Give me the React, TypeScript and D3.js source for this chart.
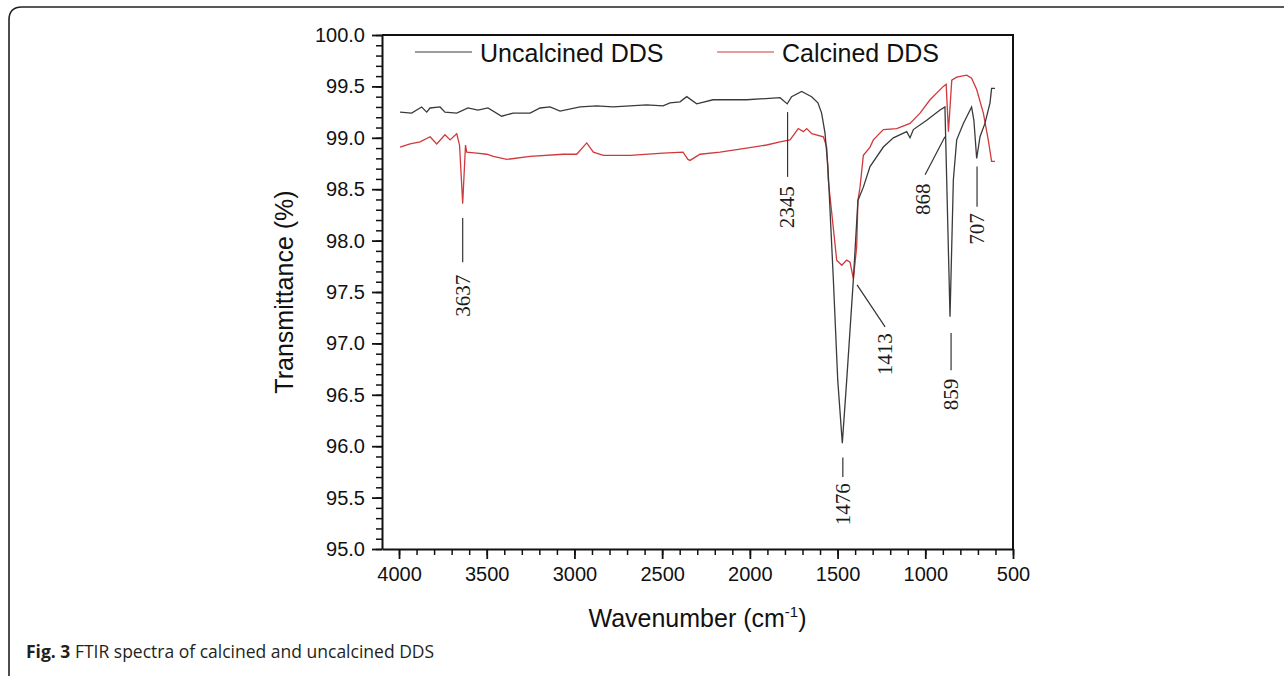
import React, { useEffect, useRef } from 'react';
import * as d3 from 'd3';

// uncalcined DDS (black)
const wnUncalcined = [3994, 3928, 3871, 3842, 3823, 3766, 3738, 3671, 3607, 3550, 3493, 3415, 3350, 3253, 3196, 3139, 3082, 2968, 2873, 2780, 2683, 2588, 2495, 2455, 2398, 2360, 2303, 2210, 2018, 1828, 1787, 1762, 1705, 1648, 1612, 1591, 1572, 1555, 1524, 1499, 1473, 1448, 1410, 1384, 1353, 1315, 1239, 1182, 1106, 1087, 1068, 992, 916, 888, 878, 859, 840, 821, 783, 736, 723, 707, 688, 660, 631, 622, 603];
const tUncalcined = [99.25, 99.24, 99.30, 99.25, 99.29, 99.30, 99.25, 99.24, 99.29, 99.27, 99.29, 99.21, 99.24, 99.24, 99.29, 99.30, 99.26, 99.30, 99.31, 99.30, 99.31, 99.32, 99.31, 99.34, 99.35, 99.40, 99.33, 99.37, 99.37, 99.39, 99.33, 99.40, 99.45, 99.40, 99.34, 99.24, 99.05, 98.72, 97.62, 96.64, 96.03, 96.64, 97.62, 98.39, 98.52, 98.72, 98.91, 99.00, 99.06, 99.00, 99.08, 99.17, 99.27, 99.30, 98.59, 97.26, 98.59, 98.98, 99.14, 99.30, 99.17, 98.80, 99.01, 99.14, 99.34, 99.48, 99.48];

// calcined DDS (red)
const wnCalcined = [3994, 3937, 3880, 3823, 3785, 3738, 3709, 3671, 3655, 3637, 3621, 3614, 3557, 3500, 3462, 3386, 3253, 3065, 2987, 2930, 2892, 2835, 2683, 2495, 2381, 2353, 2341, 2284, 2170, 2018, 1904, 1828, 1771, 1724, 1695, 1676, 1647, 1581, 1562, 1553, 1505, 1476, 1448, 1429, 1410, 1391, 1384, 1372, 1353, 1315, 1296, 1239, 1163, 1087, 1030, 973, 897, 881, 868, 849, 821, 764, 736, 707, 669, 641, 622, 603];
const tCalcined = [98.91, 98.94, 98.96, 99.01, 98.94, 99.03, 98.98, 99.04, 98.93, 98.36, 98.93, 98.86, 98.85, 98.84, 98.82, 98.79, 98.82, 98.84, 98.84, 98.95, 98.86, 98.83, 98.83, 98.85, 98.86, 98.79, 98.78, 98.84, 98.86, 98.90, 98.93, 98.96, 98.98, 99.09, 99.06, 99.09, 99.04, 99.01, 98.91, 98.59, 97.81, 97.76, 97.81, 97.79, 97.63, 97.94, 98.39, 98.52, 98.83, 98.91, 98.98, 99.08, 99.09, 99.14, 99.24, 99.37, 99.50, 99.52, 99.06, 99.56, 99.59, 99.61, 99.58, 99.47, 99.24, 98.98, 98.77, 98.77];

const seriesNames = ['Uncalcined DDS', 'Calcined DDS'];
const xTicks = [4000, 3500, 3000, 2500, 2000, 1500, 1000, 500];
const yTicks = [95, 95.5, 96, 96.5, 97, 97.5, 98, 98.5, 99, 99.5, 100];

// peak labels: text, leader line start/end [wavenumber, %T], text bottom [wavenumber, %T]
const peakLabels = ['3637', '2345', '1476', '1413', '859', '868', '707'];
const peakLineFrom = [[3637, 98.22], [1785, 99.25], [1470, 95.89], [1389, 97.57], [853, 97.10], [888, 99.01], [705, 98.72]];
const peakLineTo = [[3637, 97.79], [1785, 98.62], [1470, 95.70], [1229, 97.16], [853, 96.74], [1001, 98.64], [705, 98.33]];
const peakTextAt = [[3637, 97.26], [1790, 98.12], [1470, 95.23], [1229, 96.69], [853, 96.35], [1013, 98.25], [705, 97.96]];

const W = 1284;
const H = 676;
const margin = { left: 382, right: 271, top: 35, bottom: 127 };

const App = () => {
  const ref = useRef<SVGSVGElement>(null);

  useEffect(() => {
    const svg = d3.select(ref.current);
    svg.selectAll('*').remove();

    const sans = 'Liberation Sans, Arial, sans-serif';
    const serif = 'Liberation Serif, Times New Roman, serif';

    // outer figure frame
    svg.append('path')
      .attr('d', `M9,${H} L9,20 Q9,7 22,7 L${W},7`)
      .attr('fill', 'none')
      .attr('stroke', '#222')
      .attr('stroke-width', 1.6);

    svg.append('text')
      .attr('x', 26)
      .attr('y', 658)
      .attr('font-family', 'Open Sans, sans-serif')
      .attr('font-size', 17.5)
      .attr('fill', '#231f20')
      .call(t => {
        t.append('tspan').attr('font-weight', 'bold').text('Fig. 3');
        t.append('tspan').text(' FTIR spectra of calcined and uncalcined DDS');
      });

    const x = d3.scaleLinear().domain([4097, 500]).range([margin.left, W - margin.right]);
    const y = d3.scaleLinear().domain([95, 100]).range([H - margin.bottom, margin.top]);

    const g = svg.append('g');

    // minor ticks
    const minorX = d3.range(4000, 499, -100);
    const minorY = d3.range(95, 100.001, 0.1);
    g.append('g')
      .attr('transform', `translate(0,${y(95)})`)
      .call(d3.axisBottom(x).tickValues(minorX).tickSize(6).tickSizeOuter(0).tickFormat(() => ''))
      .call(a => a.select('.domain').remove())
      .call(a => a.selectAll('line').attr('stroke-width', 1.5).attr('stroke', '#111'));
    g.append('g')
      .attr('transform', `translate(${x(4097)},0)`)
      .call(d3.axisLeft(y).tickValues(minorY).tickSize(6).tickSizeOuter(0).tickFormat(() => ''))
      .call(a => a.select('.domain').remove())
      .call(a => a.selectAll('line').attr('stroke-width', 1.5).attr('stroke', '#111'));

    // major axes
    const xAxis = g.append('g')
      .attr('transform', `translate(0,${y(95)})`)
      .call(d3.axisBottom(x).tickValues(xTicks).tickSize(10).tickSizeOuter(0).tickPadding(8).tickFormat(d3.format('d')));
    const yAxis = g.append('g')
      .attr('transform', `translate(${x(4097)},0)`)
      .call(d3.axisLeft(y).tickValues(yTicks).tickSize(10).tickSizeOuter(0).tickPadding(7).tickFormat(d3.format('.1f')));
    [xAxis, yAxis].forEach(a => {
      a.select('.domain').attr('stroke-width', 2).attr('stroke', '#111');
      a.selectAll('line').attr('stroke-width', 1.8).attr('stroke', '#111');
      a.selectAll('text').attr('font-family', sans).attr('font-size', 20).attr('fill', '#111');
    });

    // box top & right
    g.append('path')
      .attr('d', `M${x(4097)},${y(100)} L${x(500)},${y(100)} L${x(500)},${y(95)}`)
      .attr('fill', 'none')
      .attr('stroke', '#111')
      .attr('stroke-width', 2);

    // spectra
    const line = d3.line<[number, number]>().x(d => x(d[0])).y(d => y(d[1]));
    const blackPts = wnUncalcined.map((w, i) => [w, tUncalcined[i]] as [number, number]);
    const redPts = wnCalcined.map((w, i) => [w, tCalcined[i]] as [number, number]);
    const colors = ['#3a3a3a', '#d0393b'];

    g.append('path').attr('d', line(redPts)).attr('fill', 'none').attr('stroke', colors[1]).attr('stroke-width', 1.3);
    g.append('path').attr('d', line(blackPts)).attr('fill', 'none').attr('stroke', colors[0]).attr('stroke-width', 1.3);

    // peak annotations
    peakLabels.forEach((lab, i) => {
      g.append('line')
        .attr('x1', x(peakLineFrom[i][0])).attr('y1', y(peakLineFrom[i][1]))
        .attr('x2', x(peakLineTo[i][0])).attr('y2', y(peakLineTo[i][1]))
        .attr('stroke', '#333').attr('stroke-width', 1.2);
      g.append('text')
        .attr('transform', `translate(${x(peakTextAt[i][0])},${y(peakTextAt[i][1])}) rotate(-90)`)
        .attr('dy', '0.34em')
        .attr('font-family', serif)
        .attr('font-size', 21)
        .attr('fill', '#1a1a1a')
        .text(lab);
    });

    // legend
    const legendX = [[3909, 3584, 3538], [2187, 1862, 1817]];
    seriesNames.forEach((name, i) => {
      g.append('line')
        .attr('x1', x(legendX[i][0])).attr('x2', x(legendX[i][1]))
        .attr('y1', 52).attr('y2', 52)
        .attr('stroke', colors[i]).attr('stroke-width', 1.2);
      g.append('text')
        .attr('x', x(legendX[i][2])).attr('y', 62)
        .attr('font-family', sans).attr('font-size', 25).attr('fill', '#111')
        .text(name);
    });

    // axis titles
    g.append('text')
      .attr('x', (x(4097) + x(500)) / 2)
      .attr('y', 627)
      .attr('text-anchor', 'middle')
      .attr('font-family', sans).attr('font-size', 25).attr('fill', '#111')
      .call(t => {
        t.append('tspan').text('Wavenumber (cm');
        t.append('tspan').attr('font-size', 15).attr('dy', -10).text('-1');
        t.append('tspan').attr('dy', 10).text(')');
      });
    g.append('text')
      .attr('transform', `translate(293,${(y(95) + y(100)) / 2}) rotate(-90)`)
      .attr('text-anchor', 'middle')
      .attr('font-family', sans).attr('font-size', 25).attr('fill', '#111')
      .text('Transmittance (%)');
  }, []);

  return (
    <svg ref={ref} width={W} height={H} style={{ position: 'absolute', left: 0, top: 0, background: '#fff' }} />
  );
};

export default App;
